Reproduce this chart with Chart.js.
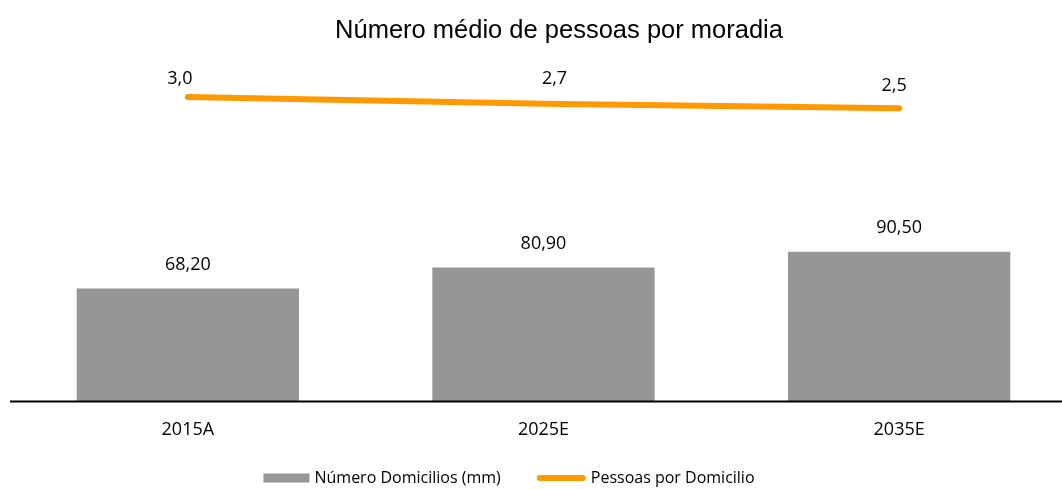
<!DOCTYPE html>
<html>
<head>
<meta charset="utf-8">
<script src="https://cdn.jsdelivr.net/npm/chart.js@4"></script>
<style>
  html, body { margin: 0; padding: 0; background: #fff; overflow: hidden; }
  #wrap { width: 1077px; height: 489px; position: relative; }
</style>
</head>
<body>
<div id="wrap"><canvas id="c"></canvas></div>
<script>
const categories = ["2015A", "2025E", "2035E"];
const domicilios = [68.20, 80.90, 90.50];
const pessoas = [3.0, 2.7, 2.5];
const seriesNames = ["Número Domicilios (mm)", "Pessoas por Domicilio"];
const chartTitle = "Número médio de pessoas por moradia";

const BAR_COLOR = "#969696";
const LINE_COLOR = "#FF9900";
const LABEL_FONT = "'Open Sans', sans-serif";

const fmt = (v, d) => v.toFixed(d).replace(".", ",");

const titlePlugin = {
  id: "titlePlugin",
  afterDraw(chart) {
    const ctx = chart.ctx;
    ctx.save();
    ctx.font = "25.5px 'Liberation Sans', Arial, sans-serif";
    ctx.fillStyle = "#000";
    ctx.textAlign = "center";
    ctx.textBaseline = "middle";
    ctx.fillText(chartTitle, 559, 31);
    ctx.restore();
  }
};

// Label offsets (px) relative to each line point, as in the original chart
const lineLabelShift = [[-8, -18.5], [11, -25], [-5, -22.5]];

const valueLabels = {
  id: "valueLabels",
  afterDatasetsDraw(chart) {
    const ctx = chart.ctx;
    ctx.save();
    ctx.font = "18px " + LABEL_FONT;
    ctx.fillStyle = "#000";
    ctx.textAlign = "center";
    ctx.textBaseline = "middle";
    chart.getDatasetMeta(1).data.forEach((el, i) => {
      ctx.fillText(fmt(domicilios[i], 2), el.x, el.y - 23.5);
    });
    chart.getDatasetMeta(0).data.forEach((el, i) => {
      const s = lineLabelShift[i] || [0, -20];
      ctx.fillText(fmt(pessoas[i], 1), el.x + s[0], el.y + s[1]);
    });
    ctx.restore();
  }
};

const baseLine = {
  id: "baseLine",
  afterDatasetsDraw(chart) {
    const ctx = chart.ctx;
    const y = chart.scales.y.getPixelForValue(0);
    ctx.save();
    ctx.strokeStyle = "#000";
    ctx.lineWidth = 2;
    ctx.beginPath();
    ctx.moveTo(10, y);
    ctx.lineTo(chart.width, y);
    ctx.stroke();
    ctx.restore();
  }
};

const customLegend = {
  id: "customLegend",
  afterDraw(chart) {
    const ctx = chart.ctx;
    ctx.save();
    ctx.font = "16px " + LABEL_FONT;
    ctx.textBaseline = "middle";
    ctx.textAlign = "left";
    const cy = 478;
    const sw = 46, sw2 = 49, gapText = 5, gapItem = 36;
    const w1 = ctx.measureText(seriesNames[0]).width;
    const w2 = ctx.measureText(seriesNames[1]).width;
    const total = sw + gapText + w1 + gapItem + sw2 + gapText + w2;
    let x = 509 - total / 2;
    ctx.fillStyle = BAR_COLOR;
    ctx.fillRect(x, cy - 4.5, sw, 9);
    x += sw + gapText;
    ctx.fillStyle = "#000";
    ctx.fillText(seriesNames[0], x, cy);
    x += w1 + gapItem;
    ctx.strokeStyle = LINE_COLOR;
    ctx.lineWidth = 6;
    ctx.lineCap = "round";
    ctx.beginPath();
    ctx.moveTo(x + 3, cy);
    ctx.lineTo(x + sw2 - 3, cy);
    ctx.stroke();
    x += sw2 + gapText;
    ctx.fillText(seriesNames[1], x, cy);
    ctx.restore();
  }
};

new Chart(document.getElementById("c"), {
  data: {
    labels: categories,
    datasets: [
      {
        type: "line",
        label: seriesNames[1],
        data: pessoas,
        yAxisID: "y2",
        borderColor: LINE_COLOR,
        backgroundColor: LINE_COLOR,
        borderWidth: 6,
        borderCapStyle: "round",
        pointRadius: 0,
        tension: 0,
        order: 0
      },
      {
        type: "bar",
        label: seriesNames[0],
        data: domicilios,
        yAxisID: "y",
        backgroundColor: BAR_COLOR,
        borderWidth: 0,
        categoryPercentage: 1.0,
        barPercentage: 0.625,
        order: 1
      }
    ]
  },
  options: {
    responsive: true,
    maintainAspectRatio: false,
    animation: false,
    layout: { padding: { left: 10, right: 0, top: 65, bottom: 30 } },
    plugins: {
      title: { display: false },
      legend: { display: false },
      tooltip: { enabled: false }
    },
    scales: {
      x: {
        grid: { display: false, drawTicks: false },
        border: { display: false },
        ticks: { color: "#000", font: { family: LABEL_FONT, size: 18 }, padding: 18 }
      },
      y: {
        display: false,
        min: 0,
        max: 203.4
      },
      y2: {
        display: false,
        position: "right",
        min: -10.5,
        max: 4.42
      }
    }
  },
  plugins: [valueLabels, baseLine, customLegend, titlePlugin]
});
</script>
</body>
</html>
